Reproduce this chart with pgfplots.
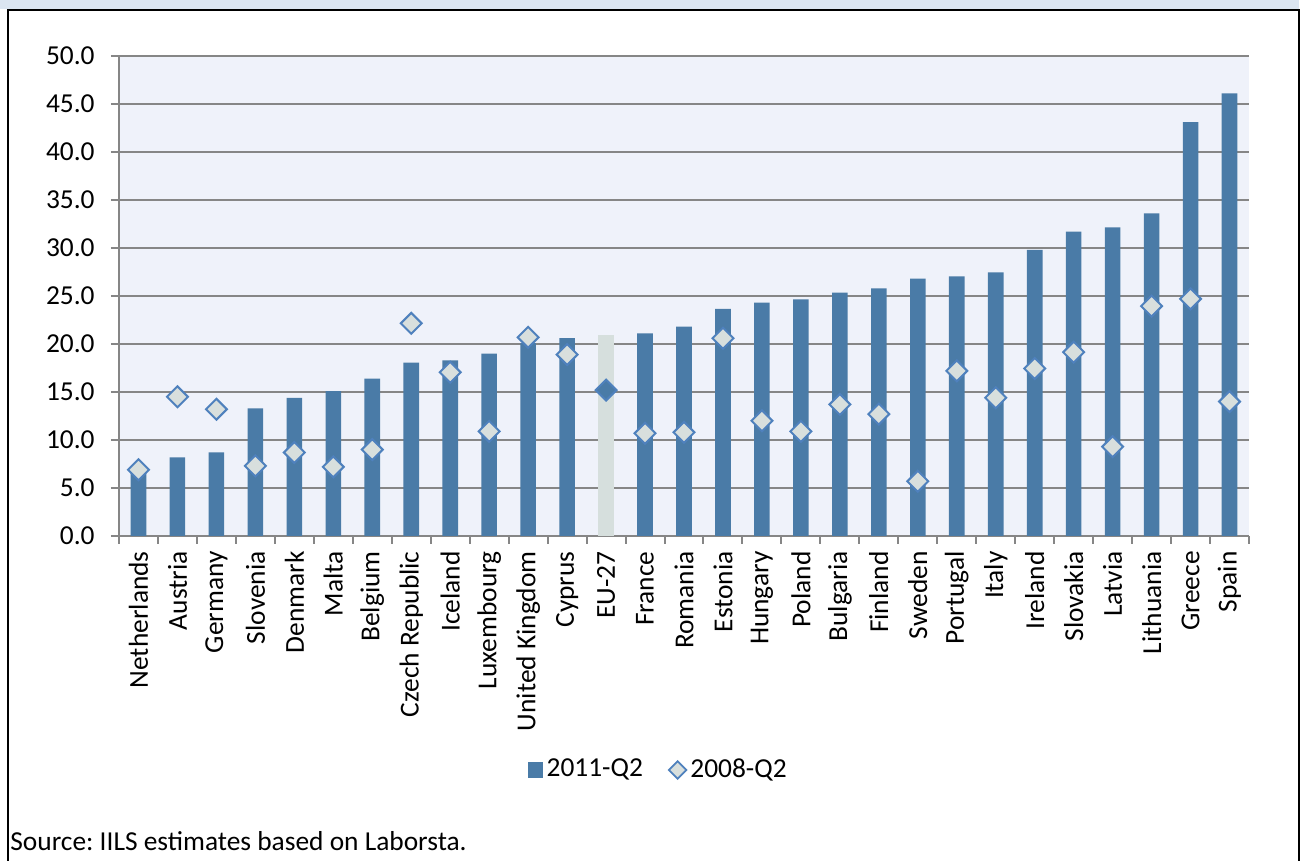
\documentclass[border=0pt]{standalone}
\usepackage{pgfplots}
\pgfplotsset{compat=1.18}
\usepackage{fontspec}
\setmainfont{Carlito}

\definecolor{barblue}{HTML}{4A7BA7}
\definecolor{euBar}{HTML}{D6DFDD}
\definecolor{diamFill}{HTML}{D8DFDD}
\definecolor{diamEdge}{HTML}{4F81BD}
\definecolor{plotBg}{HTML}{EFF2FA}
\definecolor{bandBlue}{HTML}{DBE5F1}
\definecolor{gridGrey}{HTML}{868686}

% Unemployment rate, 2011-Q2 and 2008-Q2
\pgfplotstableread{
idx  y2011  y2008
0    6.7    6.9
1    8.2    14.5
2    8.7    13.2
3    13.3   7.3
4    14.4   8.7
5    15.1   7.2
6    16.4   9.0
7    18.05  22.15
8    18.3   17.05
9    19.0   10.9
10   20.1   20.7
11   20.6   18.9
13   21.1   10.7
14   21.8   10.8
15   23.65  20.6
16   24.3   12.0
17   24.65  10.9
18   25.35  13.7
19   25.8   12.7
20   26.8   5.7
21   27.05  17.2
22   27.45  14.4
23   29.8   17.45
24   31.7   19.15
25   32.15  9.3
26   33.6   23.95
27   43.1   24.7
28   46.1   14.0
}\countries

\pgfplotstableread{
idx  y2011  y2008
12   20.9   15.2
}\eu

\begin{document}
\frenchspacing
\fontsize{13.7bp}{16bp}\selectfont
\begin{tikzpicture}
\useasboundingbox (0,0) rectangle (652bp,430.5bp);

% frame: top band, rule and side borders (pixel-like units, y downwards)
\begin{scope}[x=0.5bp,y=-0.5bp,yshift=430.5bp]
  \fill[bandBlue] (0,0) rectangle (1299,9.5);
  \draw[black,line width=1.1bp] (7.7,861) -- (7.7,10.2) -- (1298.8,10.2) -- (1298.8,861);
  \node[anchor=base west,inner sep=0pt] at (10,851) {Source: IILS estimates based on Laborsta.};
\end{scope}

\begin{axis}[
  at={(59.5bp,162.5bp)}, anchor=south west,
  scale only axis,
  width=565bp, height=240bp,
  xmin=-0.5, xmax=28.5,
  ymin=0, ymax=50,
  axis x line*=bottom, axis y line*=left,
  axis line style={draw=gridGrey,line width=1bp,-},
  axis background/.style={fill=plotBg},
  ymajorgrids,
  major grid style={draw=gridGrey,line width=1bp},
  ytick={0,5,...,50},
  yticklabel style={/pgf/number format/fixed,/pgf/number format/fixed zerofill,
    /pgf/number format/precision=1, /pgf/number format/assume math mode=true,
    font=\fontsize{13.7bp}{16bp}\selectfont, anchor=east, inner sep=0pt, xshift=-8bp},
  xtick={0,...,28},
  xticklabels={Netherlands,Austria,Germany,Slovenia,Denmark,Malta,Belgium,Czech Republic,Iceland,Luxembourg,United Kingdom,Cyprus,EU-27,France,Romania,Estonia,Hungary,Poland,Bulgaria,Finland,Sweden,Portugal,Italy,Ireland,Slovakia,Latvia,Lithuania,Greece,Spain},
  xticklabel style={rotate=90, anchor=east, inner xsep=3.5bp, inner ysep=0pt,
    font=\fontsize{13.7bp}{16bp}\selectfont},
  minor xtick={-0.5,0.5,...,28.5},
  tick align=outside,
  major tick length=4bp,
  minor tick length=4bp,
  every major x tick/.style={draw=none},
  every tick/.style={draw=gridGrey,line width=1bp},
  every minor tick/.style={draw=gridGrey,line width=1bp},
  clip=false,
  legend columns=2,
  legend style={at={(0.478,-0.4875)}, anchor=center, draw=none, fill=none,
    font=\fontsize{13.7bp}{16bp}\selectfont,
    /tikz/every even column/.append style={column sep=11bp}},
]
\addplot[ybar, bar width=7.8bp, bar shift=0pt, fill=barblue, draw=none,
  area legend,
  legend image code/.code={\fill[barblue] (0bp,-3.75bp) rectangle (7.5bp,3.75bp);}]
  table[x=idx,y=y2011] {\countries};
\addlegendentry{2011-Q2}
\addplot[ybar, bar width=7.8bp, bar shift=0pt, fill=euBar, draw=none, forget plot]
  table[x=idx,y=y2011] {\eu};
\addplot[only marks, mark=square*, mark size=3.7bp,
  mark options={rotate=45, fill=diamFill, draw=diamEdge, line width=1bp},
  legend image code/.code={\draw[mark options={rotate=45, fill=diamFill, draw=diamEdge, line width=0.9bp}] plot[mark=square*, mark size=3.1bp] coordinates {(4bp,0bp)};}]
  table[x=idx,y=y2008] {\countries};
\addlegendentry{2008-Q2}
\addplot[only marks, mark=square*, mark size=3.7bp, forget plot,
  mark options={rotate=45, fill=barblue, draw=diamEdge, line width=1bp}]
  table[x=idx,y=y2008] {\eu};
\end{axis}
\end{tikzpicture}
\end{document}
